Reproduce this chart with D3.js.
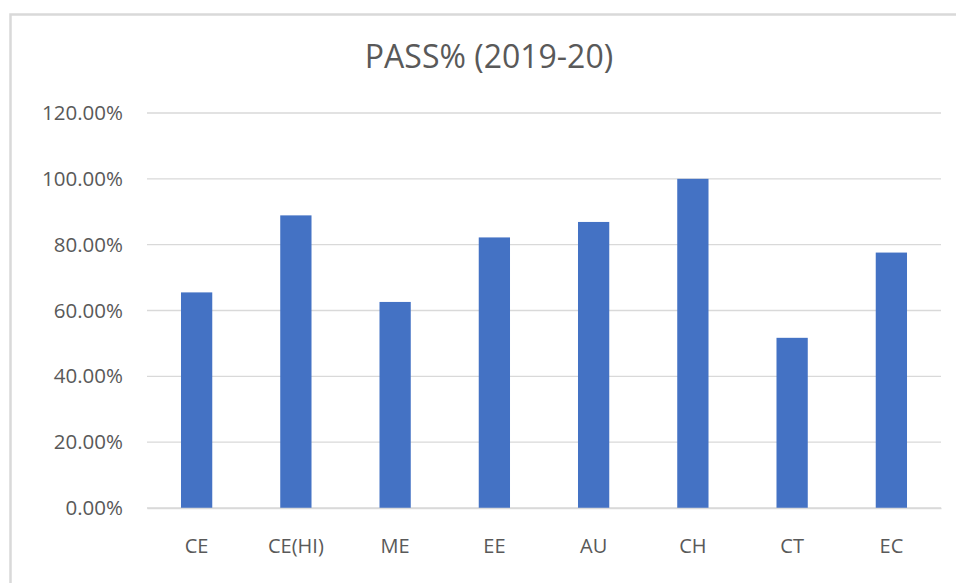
<!DOCTYPE html>
<html>
<head>
<meta charset="utf-8">
<script src="https://cdn.jsdelivr.net/npm/d3@7"></script>
<style>
  body { margin: 0; background: #fff; }
  svg { display: block; font-family: "Open Sans", sans-serif; }
</style>
</head>
<body>
<div id="chart"></div>
<script>
"use strict";

// data
var categories = ["CE", "CE(HI)", "ME", "EE", "AU", "CH", "CT", "EC"];
var passPct = [0.655, 0.889, 0.626, 0.822, 0.869, 1.0, 0.517, 0.776];
var yTicks = [0, 0.2, 0.4, 0.6, 0.8, 1.0, 1.2];
var chartTitle = "PASS% (2019-20)";

var width = 956,
    height = 583;

var plot = { left: 147, right: 941, top: 113, bottom: 508 };

var svg = d3.select("#chart").append("svg")
  .attr("width", width)
  .attr("height", height);

// chart frame (only top + left edges show in the picture)
svg.append("rect")
  .attr("x", 10.5)
  .attr("y", 14.5)
  .attr("width", 1000)
  .attr("height", 1000)
  .style("fill", "none")
  .style("stroke", "#d9d9d9")
  .style("stroke-width", 2.5);

var yScale = d3.scaleLinear()
  .domain([0, 1.2])
  .range([plot.bottom, plot.top]);

var xScale = d3.scaleBand()
  .domain(categories)
  .range([plot.left, plot.right])
  .paddingInner(0.685)
  .paddingOuter(0.3425);

var pctFmt = d3.format(".2%");

// gridlines
svg.append("g").selectAll("line").data(yTicks)
  .enter().append("line")
    .attr("x1", plot.left)
    .attr("x2", plot.right)
    .attr("y1", function(d) { return yScale(d); })
    .attr("y2", function(d) { return yScale(d); })
    .style("stroke", "#d9d9d9")
    .style("stroke-width", 1.3);

// y axis labels
var yAxis = d3.axisLeft(yScale)
  .tickValues(yTicks)
  .tickFormat(pctFmt)
  .tickSize(0)
  .tickPadding(24);

var yg = svg.append("g")
  .attr("transform", "translate(" + plot.left + ",0)")
  .call(yAxis);
yg.select(".domain").remove();
yg.selectAll("text")
  .style("font-family", "'Open Sans', sans-serif")
  .style("font-size", "20.5px")
  .style("fill", "#595959");

// bars
svg.append("g").selectAll("rect").data(passPct)
  .enter().append("rect")
    .attr("x", function(d, i) { return xScale(categories[i]); })
    .attr("width", xScale.bandwidth())
    .attr("y", function(d) { return yScale(d); })
    .attr("height", function(d) { return yScale(0) - yScale(d); })
    .style("fill", "#4472c4");

// x axis
var xAxis = d3.axisBottom(xScale).tickSize(0).tickPadding(31);
var xg = svg.append("g")
  .attr("transform", "translate(0," + plot.bottom + ")")
  .call(xAxis);
xg.select(".domain")
  .style("stroke", "#d9d9d9")
  .style("stroke-width", 1.3);
xg.selectAll("text")
  .style("font-family", "'Open Sans', sans-serif")
  .style("font-size", "20px")
  .style("fill", "#595959");

// title
svg.append("text")
  .attr("x", 489)
  .attr("y", 68)
  .attr("text-anchor", "middle")
  .style("font-size", "32px")
  .style("fill", "#595959")
  .text(chartTitle);
</script>
</body>
</html>
